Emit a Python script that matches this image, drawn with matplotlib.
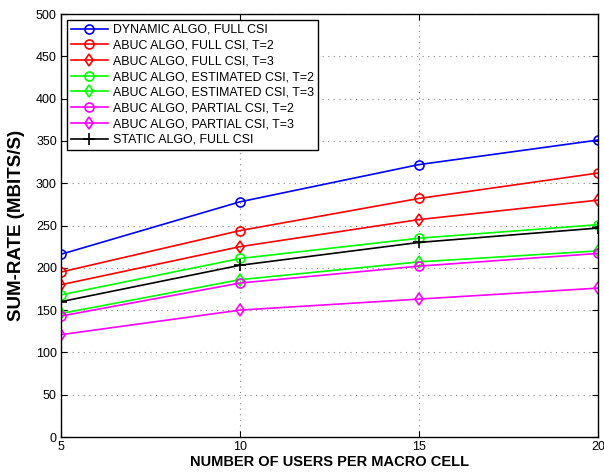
import matplotlib
matplotlib.use('Agg')
import matplotlib.pyplot as plt

plt.rcParams['font.family'] = ['Liberation Sans', 'DejaVu Sans']

# users per macro cell
users = [5, 10, 15, 20]

# sum-rate values (Mbits/s)
dynamic_full = [216, 278, 322, 351]
abuc_full_t2 = [195, 244, 282, 312]
abuc_full_t3 = [180, 225, 257, 280]
abuc_est_t2 = [168, 211, 235, 251]
abuc_est_t3 = [146, 186, 207, 220]
abuc_part_t2 = [143, 182, 202, 217]
abuc_part_t3 = [121, 150, 163, 176]
static_full = [160, 203, 230, 247]

labels = ['DYNAMIC ALGO, FULL CSI',
          'ABUC ALGO, FULL CSI, T=2',
          'ABUC ALGO, FULL CSI, T=3',
          'ABUC ALGO, ESTIMATED CSI, T=2',
          'ABUC ALGO, ESTIMATED CSI, T=3',
          'ABUC ALGO, PARTIAL CSI, T=2',
          'ABUC ALGO, PARTIAL CSI, T=3',
          'STATIC ALGO, FULL CSI']

series = [dynamic_full, abuc_full_t2, abuc_full_t3, abuc_est_t2,
          abuc_est_t3, abuc_part_t2, abuc_part_t3, static_full]
colors = ['#0000ff', '#ff0000', '#ff0000', '#00ff00',
          '#00ff00', '#ff00ff', '#ff00ff', '#000000']
markers = ['o', 'o', 'd', 'o', 'd', 'o', 'd', '+']

fig = plt.figure(figsize=(6.04, 4.75), dpi=100)
ax = fig.add_axes([0.101, 0.08, 0.889, 0.8905])

for vals, lab, c, m in zip(series, labels, colors, markers):
    ax.plot(users, vals, color=c, marker=m, markersize=6.5 if m != '+' else 8,
            markerfacecolor='none', markeredgecolor=c, markeredgewidth=1.2,
            linewidth=1.2, label=lab)

ax.set_xlim(5, 20)
ax.set_ylim(0, 500)
ax.set_xticks([5, 10, 15, 20])
ax.set_yticks(range(0, 501, 50))
ax.grid(True, color='#888888', linestyle=(0, (1, 4)), linewidth=0.8)
ax.tick_params(direction='in', labelsize=9, length=4, top=True, right=True,
               pad=3)
for sp in ax.spines.values():
    sp.set_linewidth(1.0)

ax.set_xlabel('NUMBER OF USERS PER MACRO CELL', fontsize=10.5,
              fontweight='bold', labelpad=1)
ax.set_ylabel('SUM-RATE (MBITS/S)', fontsize=13.5, fontweight='bold',
              labelpad=8)

leg = ax.legend(loc='upper left', fontsize=8.9, numpoints=1,
                handlelength=3.0, labelspacing=0.3, borderpad=0.35,
                handletextpad=0.4, borderaxespad=0.45, fancybox=False,
                framealpha=1, edgecolor='black')
leg.get_frame().set_linewidth(1.0)

fig.savefig('out.png', dpi=100)
